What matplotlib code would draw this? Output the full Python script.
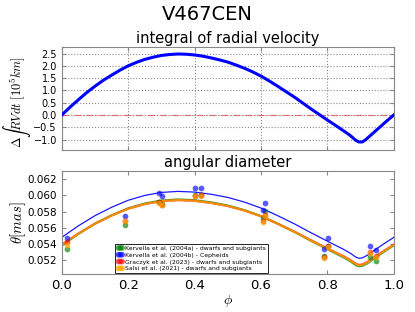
import matplotlib
matplotlib.use("Agg")
import matplotlib.pyplot as plt

plt.rcParams['mathtext.fontset'] = 'cm'

# ---------------- data ----------------
phase_rv = [0.000, 0.025, 0.050, 0.075, 0.100, 0.125, 0.150, 0.175, 0.200, 0.225, 0.250, 0.275,
            0.300, 0.325, 0.350, 0.375, 0.400, 0.425, 0.450, 0.475, 0.500, 0.525, 0.550, 0.575,
            0.600, 0.625, 0.650, 0.675, 0.700, 0.725, 0.750, 0.775, 0.800, 0.825, 0.850, 0.865,
            0.875, 0.885, 0.895, 0.905, 0.915, 0.930, 0.950, 0.975, 1.000]
rv_integral = [0.00, 0.32, 0.62, 0.91, 1.17, 1.41, 1.62, 1.82, 2.00, 2.14, 2.26, 2.35,
               2.42, 2.46, 2.48, 2.47, 2.44, 2.39, 2.32, 2.24, 2.15, 2.03, 1.90, 1.75,
               1.58, 1.38, 1.17, 0.95, 0.73, 0.49, 0.25, 0.02, -0.21, -0.43, -0.66, -0.80,
               -0.91, -1.03, -1.10, -1.10, -1.01, -0.83, -0.59, -0.29, 0.00]

phase_fit = [0.00, 0.05, 0.10, 0.15, 0.20, 0.25, 0.30, 0.35, 0.40, 0.45, 0.50, 0.55, 0.60,
             0.65, 0.70, 0.75, 0.80, 0.85, 0.87, 0.885, 0.895, 0.905, 0.92, 0.95, 0.975, 1.00]
fit_kervella_a = [0.05380, 0.05523, 0.05649, 0.05753, 0.05840, 0.05900, 0.05937, 0.05950, 0.05941,
                  0.05914, 0.05875, 0.05817, 0.05743, 0.05649, 0.05548, 0.05438, 0.05332, 0.05228,
                  0.05180, 0.05136, 0.05120, 0.05125, 0.05157, 0.05244, 0.05313, 0.05380]
fit_kervella_b = [0.05480, 0.05623, 0.05749, 0.05853, 0.05940, 0.06000, 0.06037, 0.06050, 0.06041,
                  0.06014, 0.05975, 0.05917, 0.05843, 0.05749, 0.05648, 0.05538, 0.05432, 0.05328,
                  0.05280, 0.05236, 0.05220, 0.05225, 0.05257, 0.05344, 0.05413, 0.05480]
fit_graczyk = [0.05390, 0.05528, 0.05650, 0.05750, 0.05834, 0.05892, 0.05927, 0.05941, 0.05932,
               0.05905, 0.05867, 0.05812, 0.05741, 0.05650, 0.05552, 0.05446, 0.05343, 0.05244,
               0.05197, 0.05155, 0.05139, 0.05144, 0.05175, 0.05259, 0.05326, 0.05390]
fit_salsi = [0.05385, 0.05525, 0.05648, 0.05750, 0.05835, 0.05894, 0.05930, 0.05943, 0.05934,
             0.05907, 0.05869, 0.05813, 0.05741, 0.05648, 0.05549, 0.05441, 0.05338, 0.05237,
             0.05189, 0.05147, 0.05131, 0.05135, 0.05167, 0.05252, 0.05320, 0.05385]

phase_obs = [0.016, 0.19, 0.292, 0.302, 0.402, 0.42, 0.605, 0.612, 0.789, 0.801, 0.927, 0.945]
theta_kervella_a = [0.05336, 0.05630, 0.05923, 0.05890, 0.06000, 0.06002, 0.05717, 0.05812,
                    0.05245, 0.05378, 0.05241, 0.05188]
theta_kervella_b = [0.05477, 0.05750, 0.06026, 0.05998, 0.06097, 0.06097, 0.05820, 0.05902,
                    0.05336, 0.05469, 0.05369, 0.05328]
theta_graczyk = [0.05427, 0.05688, 0.05915, 0.05886, 0.05996, 0.06000, 0.05683, 0.05758,
                 0.05233, 0.05378, 0.05299, 0.05250]
theta_salsi = [0.05390, 0.05679, 0.05911, 0.05878, 0.05993, 0.05998, 0.05675, 0.05750,
               0.05225, 0.05365, 0.05291, 0.05241]

labels = ["Kervella et al. (2004a) - dwarfs and subgiants",
          "Kervella et al. (2004b) - Cepheids",
          "Graczyk et al. (2023) - dwarfs and subgiants",
          "Salsi et al. (2021) - dwarfs and subgiants"]

# ---------------- figure ----------------
fig = plt.figure(figsize=(4.15, 3.12), dpi=100)
fig.text(0.5, 0.955, "V467CEN", ha='center', va='center', fontsize=14)

spine_col = '#888888'

ax1 = fig.add_axes([0.149, 0.519, 0.800, 0.330])
ax1.plot(phase_rv, rv_integral, color='blue', lw=2.2, zorder=3)
ax1.axhline(0.0, color='#e05050', ls=(0, (6, 2, 1, 2)), lw=0.8, alpha=0.8, zorder=2)
ax1.set_xlim(0, 1)
ax1.set_ylim(-1.43, 2.76)
ax1.set_yticks([-1.0, -0.5, 0.0, 0.5, 1.0, 1.5, 2.0, 2.5])
ax1.set_yticklabels(['\u22121.0', '\u22120.5', '0.0', '0.5', '1.0', '1.5', '2.0', '2.5'])
ax1.set_xticks([0.0, 0.2, 0.4, 0.6, 0.8, 1.0])
ax1.tick_params(labelbottom=False, direction='in', top=True, right=True,
                labelsize=7, length=3, color=spine_col)
ax1.grid(True, ls=':', color='#8a8a8a', lw=0.8)
ax1.set_title("integral of radial velocity", fontsize=10.5, pad=3)
ax1.set_ylabel(r'$\Delta\int RVdt\ [10^5 km]$', fontsize=9)
ax1.yaxis.set_label_coords(-0.088, 0.47)
for s in ax1.spines.values():
    s.set_color(spine_col)

ax2 = fig.add_axes([0.149, 0.122, 0.800, 0.330])
ax2.plot(phase_fit, fit_kervella_a, color='green', lw=1.5, alpha=0.8, zorder=2)
ax2.plot(phase_fit, fit_graczyk, color='red', lw=1.5, alpha=0.7, zorder=2)
ax2.plot(phase_fit, fit_salsi, color='orange', lw=1.5, alpha=0.8, zorder=2)
ax2.plot(phase_fit, fit_kervella_b, color='blue', lw=0.9, alpha=0.9, zorder=2)

ms = 17
ax2.scatter(phase_obs, theta_kervella_a, s=ms, color='green', alpha=0.65, lw=0, label=labels[0], zorder=3)
ax2.scatter(phase_obs, theta_kervella_b, s=ms, color='blue', alpha=0.65, lw=0, label=labels[1], zorder=3)
ax2.scatter(phase_obs, theta_graczyk, s=ms, color='red', alpha=0.6, lw=0, label=labels[2], zorder=3)
ax2.scatter(phase_obs, theta_salsi, s=ms, color='orange', alpha=0.7, lw=0, label=labels[3], zorder=3)

ax2.set_xlim(0, 1)
ax2.set_ylim(0.05026, 0.06303)
ax2.set_yticks([0.052, 0.054, 0.056, 0.058, 0.060, 0.062])
ax2.set_xticks([0.0, 0.2, 0.4, 0.6, 0.8, 1.0])
ax2.tick_params(axis='y', labelsize=7.5)
ax2.tick_params(axis='x', labelsize=9.5)
ax2.tick_params(direction='in', top=True, right=True, length=3, color=spine_col)
ax2.set_title("angular diameter", fontsize=10.5, pad=3)
ax2.set_ylabel(r'$\theta[mas]$', fontsize=10.5)
ax2.yaxis.set_label_coords(-0.102, 0.5)
ax2.set_xlabel(r'$\phi$', fontsize=10, labelpad=1)
for s in ax2.spines.values():
    s.set_color(spine_col)

leg = ax2.legend(loc='lower center', bbox_to_anchor=(0.39, 0.0), fontsize=4.4,
                 scatterpoints=3, scatteryoffsets=[0.5], fancybox=False, framealpha=1,
                 borderpad=0.3, labelspacing=0.25, handletextpad=0.2, handlelength=1.2,
                 borderaxespad=0.1)
leg.get_frame().set_edgecolor('black')
leg.get_frame().set_linewidth(0.6)

fig.savefig("out.png", dpi=100)
